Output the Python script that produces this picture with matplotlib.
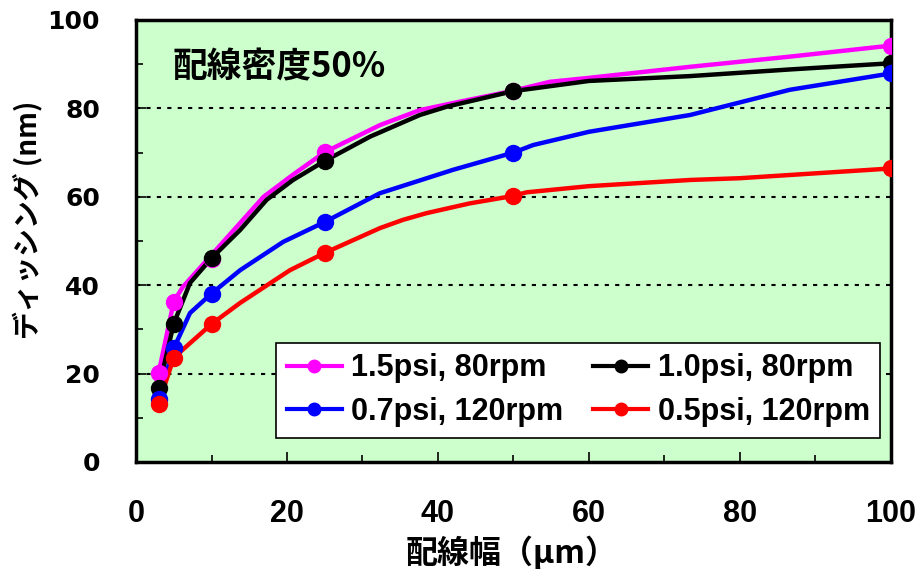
import numpy as np
import matplotlib
matplotlib.use("Agg")
import matplotlib.pyplot as plt
from matplotlib.ticker import MultipleLocator

plt.rcParams['font.family'] = ['Noto Sans CJK JP', 'DejaVu Sans']
LATIN = ['Liberation Sans', 'DejaVu Sans']

# marked points (line width in um -> dishing in nm)
mark_x = [3, 5, 10, 25, 50, 100]
mag_mark = [20.2, 36.3, 46.0, 70.1, 84.0, 94.2]
blk_mark = [16.7, 31.3, 46.1, 68.1, 83.9, 90.2]
blu_mark = [14.3, 25.7, 38.1, 54.3, 70.0, 87.9]
red_mark = [13.2, 23.6, 31.2, 47.3, 60.2, 66.4]

# line vertices (markers included)
mag_x = [3, 5, 6.2, 9.4, 16.9, 20.8, 25, 32.3, 37.6, 42, 50, 54.8, 60, 73.4, 86.6, 100]
mag_y = [20.2, 36.3, 39.6, 45.7, 60.0, 65.0, 70.1, 76.2, 79.6, 81.2, 84.0, 86.0, 86.9, 89.4, 91.7, 94.2]
blk_x = [3, 5, 7.15, 10, 13.8, 17.3, 20.8, 25, 31, 37.6, 41.2, 50, 60, 73.4, 86.6, 100]
blk_y = [16.7, 31.3, 40.5, 46.1, 52.5, 59.3, 63.8, 68.1, 73.6, 78.5, 80.4, 83.9, 86.2, 87.3, 88.8, 90.2]
blu_x = [3, 5, 7.15, 10, 13.8, 19.5, 25, 32.3, 42, 50, 52.6, 60, 73.4, 86.6, 100]
blu_y = [14.3, 25.7, 33.7, 38.1, 43.4, 49.8, 54.3, 60.8, 66.1, 70.0, 71.7, 74.7, 78.5, 84.2, 87.9]
red_x = [3, 5, 10, 13.8, 20.4, 25, 32.3, 35.4, 38.5, 44.2, 50, 51.7, 60, 73.4, 80, 100]
red_y = [13.2, 23.6, 31.2, 36.0, 43.4, 47.3, 52.9, 54.8, 56.3, 58.5, 60.2, 61.0, 62.4, 63.8, 64.2, 66.4]

labels = ["1.5psi, 80rpm", "1.0psi, 80rpm", "0.7psi, 120rpm", "0.5psi, 120rpm"]
colors = ["#FF00FF", "#000000", "#0000FF", "#FF0000"]

fig = plt.figure(figsize=(9.19, 5.70), dpi=100)
ax = fig.add_axes([0.148, 0.1895, 0.8215, 0.7755])
ax.set_facecolor("#CCFFCC")

series = [(mag_x, mag_y, mag_mark), (blk_x, blk_y, blk_mark),
          (blu_x, blu_y, blu_mark), (red_x, red_y, red_mark)]
for (lx, ly, my), c in zip(series, colors):
    ax.plot(lx, ly, color=c, lw=3.2, zorder=3, solid_joinstyle='round')
    ax.plot(mark_x, my, 'o', color=c, ms=11.5, zorder=4)

# legend: rows (magenta, black) / (blue, red) -> column-major order
handles = [plt.Line2D([], [], color=c, lw=3, marker='o', ms=9) for c in colors]
order = [0, 2, 1, 3]
leg = ax.legend([handles[i] for i in order], [labels[i] for i in order],
                ncol=2, loc='lower right', bbox_to_anchor=(0.986, 0.055),
                frameon=True, fancybox=False, edgecolor='black', framealpha=1,
                handlelength=1.8, handletextpad=0.3, columnspacing=1.0,
                borderpad=0.35, labelspacing=0.45, borderaxespad=0,
                prop={'family': LATIN, 'weight': 'bold', 'size': 22})
leg.get_frame().set_linewidth(1.2)
leg.set_zorder(5)

ax.set_xlim(0, 100)
ax.set_ylim(0, 100)
ax.xaxis.set_major_locator(MultipleLocator(20))
ax.xaxis.set_minor_locator(MultipleLocator(10))
ax.yaxis.set_major_locator(MultipleLocator(20))
ax.yaxis.set_minor_locator(MultipleLocator(10))
ax.tick_params(which='both', direction='in', top=False, right=False, width=1.2)
ax.tick_params(which='major', length=7)
ax.tick_params(which='minor', length=5)
ax.tick_params(axis='y', pad=26)
ax.tick_params(axis='x', pad=27)
for t in ax.get_yticklabels():
    t.set_family(['DejaVu Sans'])
    t.set_fontweight('bold')
    t.set_fontsize(18)
for t in ax.get_xticklabels():
    t.set_family(LATIN)
    t.set_fontweight('bold')
    t.set_fontsize(22)

for v in [20, 40, 60, 80]:
    ax.axhline(v, color='black', lw=1.5, ls=(0, (2, 3)), zorder=2)

for s in ax.spines.values():
    s.set_linewidth(2.5)

ax.text(4.9, 89.4, "配線密度50%", fontsize=25, fontweight='bold', va='center', zorder=5)
ax.set_xlabel("配線幅（μm）", fontsize=23, fontweight='bold', va='center')
ax.xaxis.set_label_coords(0.498, -0.206)
ax.set_ylabel("ディッシング (nm)", fontsize=20, fontweight='bold', va='center')
ax.yaxis.set_label_coords(-0.143, 0.547)

fig.savefig("out.png", dpi=100)
